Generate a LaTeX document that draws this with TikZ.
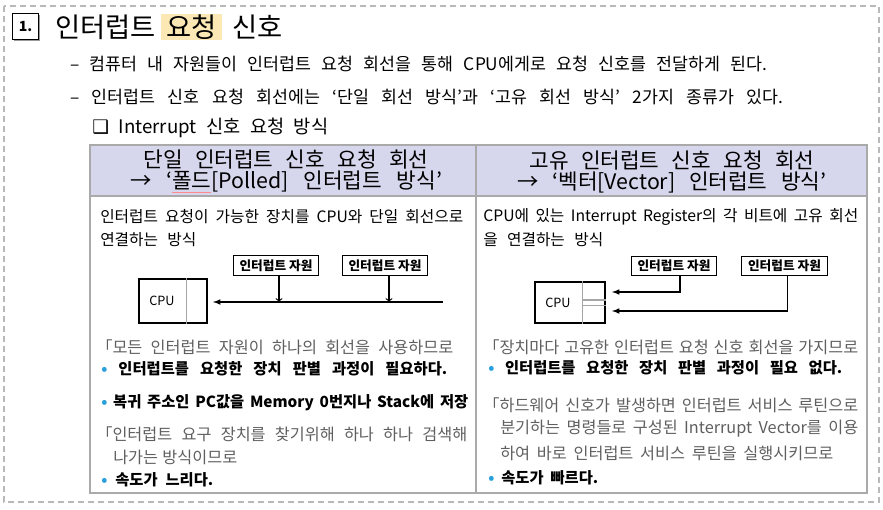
\documentclass[tikz,border=0pt]{standalone}
\usepackage{fontspec}
\setmainfont{Noto Sans CJK KR}
\newfontfamily\symfont{DejaVu Sans}
\usetikzlibrary{positioning,shadows}
\definecolor{headfill}{RGB}{214,214,236}
\definecolor{tableline}{RGB}{170,170,170}
\definecolor{dashline}{RGB}{185,185,185}
\definecolor{hilite}{RGB}{252,232,180}
\definecolor{graytext}{RGB}{95,95,95}
\definecolor{dotblue}{RGB}{40,160,220}
\newcommand{\fitline}[2]{\makebox[\dimexpr #1pt*3/4\relax][s]{#2}}
\newcommand{\dotb}{\textcolor{dotblue}{•}}
\tikzset{
  txt/.style={anchor=west, inner sep=0pt, font=\fontsize{11.8}{13}\selectfont},
  toptxt/.style={txt, font=\fontsize{13}{15}\selectfont},
  graytxt/.style={txt, text=graytext, font=\fontsize{12.2}{14}\selectfont},
  boldtxt/.style={txt, font=\fontsize{11.5}{13}\selectfont\bfseries},
  headtxt/.style={inner sep=0pt, font=\fontsize{16}{18}\selectfont},
  titletxt/.style={inner sep=0pt, font=\fontsize{20.5}{22}\selectfont},
  subtxt/.style={txt, font=\fontsize{14}{16}\selectfont},
  numbox/.style={draw, line width=0.8pt, fill=white, minimum size=20pt, inner sep=0pt,
    drop shadow={shadow xshift=1.2pt, shadow yshift=-1.2pt, fill=gray!80, opacity=1},
    font=\fontsize{10.5}{12}\selectfont\bfseries},
  srcbox/.style={draw, line width=0.8pt, inner sep=0pt, minimum width=64pt,
    minimum height=14.5pt, font=\fontsize{9.5}{10}\selectfont\bfseries},
  cpubox/.style={draw, line width=0.9pt, inner sep=0pt},
  cpulbl/.style={inner sep=0pt, font=\fontsize{9.5}{10}\selectfont},
  wire/.style={line width=0.9pt},
}
\begin{document}
\begin{tikzpicture}[x=0.75pt,y=-0.75pt]
\useasboundingbox (0,0) rectangle (883,510);
% frame
\draw[dashline, line width=0.8pt, dash pattern=on 4.5pt off 3pt] (4,6) rectangle (879,502);
% title
\node[numbox] (num) at (25.5,26.5) {1.};
\node[titletxt, anchor=west] (titleA) at (55,27) {인터럽트};
\node[titletxt, fill=hilite, minimum width=45.75pt, minimum height=19.5pt] (titleB) at (191.5,27) {요청};
\node[titletxt, anchor=west] (titleC) at (232,27) {신호};
% intro lines
\node[toptxt] (lineA) at (70,64) {\fitline{697}{– 컴퓨터 내 자원들이 인터럽트 요청 회선을 통해 CPU에게로 요청 신호를 전달하게 된다.}};
\node[toptxt] (lineB) at (70,97) {\fitline{713}{– 인터럽트 신호 요청 회선에는 ‘단일 회선 방식’과 ‘고유 회선 방식’ 2가지 종류가 있다.}};
\node[subtxt] (sub) at (92,128) {\fitline{236}{{\symfont ❑} Interrupt 신호 요청 방식}};
% table
\fill[headfill] (90,145) rectangle (867,196);
\draw[tableline, line width=0.8pt] (90,145) rectangle (867,493);
\draw[tableline, line width=0.8pt] (90,196) -- (867,196);
\draw[tableline, line width=0.8pt] (476,145) -- (476,493);
% headers
\node[headtxt] (headA) at (286,159) {\fitline{285}{단일 인터럽트 신호 요청 회선}};
\node[headtxt] (headB) at (286,182) {\fitline{312}{→ ‘{\color{red!45}\underline{\textcolor{black}{폴드}}}[Polled] 인터럽트 방식’}};
\node[headtxt] (headC) at (672,160) {\fitline{285}{고유 인터럽트 신호 요청 회선}};
\node[headtxt] (headD) at (672,182) {\fitline{309}{→ ‘벡터[Vector] 인터럽트 방식’}};
% left column text
\node[txt] (defA) at (100,217) {\fitline{363}{인터럽트 요청이 가능한 장치를 CPU와 단일 회선으로}};
\node[txt] (defB) at (100,240) {\fitline{96}{연결하는 방식}};
% polled diagram
\node[srcbox] (srcA) at (276,265.5) {인터럽트 자원};
\node[srcbox] (srcB) at (385,265.5) {인터럽트 자원};
\node[cpubox, minimum width=51pt, minimum height=33pt] (cpuA) at (173,301) {};
\draw[gray!70, line width=0.8pt] ([xshift=-15.75pt]cpuA.north east) -- ([xshift=-15.75pt]cpuA.south east);
\node[cpulbl] (cpuAt) at (162,301) {CPU};
\coordinate (busA) at (443,302);
\coordinate (tipA) at (213,302);
\draw[wire, -latex] (busA) -- (tipA);
\draw[wire, ->] ([xshift=2.25pt]srcA.south) -- ([xshift=2.25pt]srcA.south |- busA);
\draw[wire, ->] ([xshift=3pt]srcB.south) -- ([xshift=3pt]srcB.south |- busA);
% left column notes
\node[graytxt] (noteA) at (96,347) {\fitline{357}{「모든 인터럽트 자원이 하나의 회선을 사용하므로}};
\node[boldtxt] (noteB) at (101,369) {\fitline{346}{\dotb{} 인터럽트를 요청한 장치 판별 과정이 필요하다.}};
\node[boldtxt] (noteC) at (101,403) {\fitline{367}{\dotb{} 복귀 주소인 PC값을 Memory 0번지나 Stack에 저장}};
\node[graytxt] (noteD) at (96,434) {\fitline{371}{「인터럽트 요구 장치를 찾기위해 하나 하나 검색해}};
\node[graytxt] (noteE) at (113,457) {\fitline{124}{나가는 방식이므로}};
\node[boldtxt] (noteF) at (101,480) {\fitline{112}{\dotb{} 속도가 느리다.}};
% right column text
\node[txt] (defC) at (483,217) {\fitline{375}{CPU에 있는 Interrupt Register의 각 비트에 고유 회선}};
\node[txt] (defD) at (483,240) {\fitline{120}{을 연결하는 방식}};
% vector diagram
\node[srcbox] (srcC) at (674,266) {인터럽트 자원};
\node[srcbox] (srcD) at (784.5,266) {인터럽트 자원};
\node[cpubox, minimum width=52.5pt, minimum height=30.75pt] (cpuB) at (570,302.5) {};
\draw[gray!70, line width=0.8pt] ([xshift=-17.25pt]cpuB.north east) -- ([xshift=-17.25pt]cpuB.south east);
\draw[gray!70, line width=0.8pt] ([xshift=-17.25pt,yshift=1.9pt]cpuB.east) -- ([yshift=1.9pt]cpuB.east);
\draw[gray!70, line width=0.8pt] ([xshift=-17.25pt,yshift=-1.9pt]cpuB.east) -- ([yshift=-1.9pt]cpuB.east);
\node[cpulbl] (cpuBt) at (558,303) {CPU};
\coordinate (tipC) at (612,292);
\coordinate (tipD) at (612,311);
\draw[wire, -latex] ([xshift=4.5pt]srcC.south) |- (tipC);
\draw[wire, -latex] ([xshift=2pt]srcD.south) |- (tipD);
% right column notes
\node[graytxt] (noteG) at (483,347) {\fitline{375}{「장치마다 고유한 인터럽트 요청 신호 회선을 가지므로}};
\node[boldtxt] (noteH) at (488,368) {\fitline{354}{\dotb{} 인터럽트를 요청한 장치 판별 과정이 필요 없다.}};
\node[graytxt] (noteI) at (483,405) {\fitline{375}{「하드웨어 신호가 발생하면 인터럽트 서비스 루틴으로}};
\node[graytxt] (noteJ) at (500,429) {\fitline{358}{분기하는 명령들로 구성된 Interrupt Vector를 이용}};
\node[graytxt] (noteK) at (500,453) {\fitline{333}{하여 바로 인터럽트 서비스 루틴을 실행시키므로}};
\node[boldtxt] (noteL) at (488,478) {\fitline{110}{\dotb{} 속도가 빠르다.}};
\end{tikzpicture}
\end{document}
